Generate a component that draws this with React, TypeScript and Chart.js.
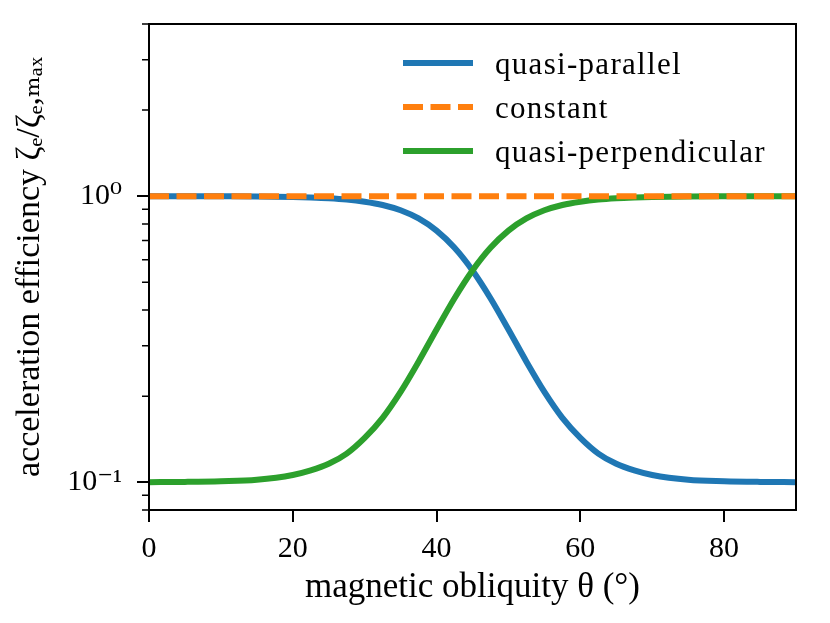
import React, { useEffect, useRef } from "react";
import { Chart, registerables } from "chart.js";

Chart.register(...registerables);

// ---- data ----
const theta = [0, 5, 10, 15, 20, 22.5, 25, 27.5, 30, 32.5, 35, 37.5, 40, 42.5, 45, 47.5, 50, 52.5, 55, 57.5, 60, 62.5, 65, 67.5, 70, 75, 80, 85, 90];
const quasiParallel = [0.9999, 0.9997, 0.9992, 0.998, 0.994, 0.99, 0.984, 0.974, 0.957, 0.932, 0.893, 0.836, 0.758, 0.66, 0.55, 0.44, 0.342, 0.264, 0.207, 0.168, 0.143, 0.126, 0.116, 0.11, 0.106, 0.102, 0.1008, 0.1003, 0.1001];
const quasiPerpendicular = [0.1001, 0.1003, 0.1008, 0.102, 0.106, 0.11, 0.116, 0.126, 0.143, 0.168, 0.207, 0.264, 0.342, 0.44, 0.55, 0.66, 0.758, 0.836, 0.893, 0.932, 0.957, 0.974, 0.984, 0.99, 0.994, 0.998, 0.9992, 0.9997, 0.9999];
const constantTheta = [0, 90];
const constantValue = [1, 1];

const seriesLabels = ["quasi-parallel", "constant", "quasi-perpendicular"];
const xTicks = [0, 20, 40, 60, 80];
const yMajorTicks = [0.1, 1];
const yMajorLabels = ["10⁻¹", "10⁰"];
const yMinorTicks = [0.08, 0.09, 0.2, 0.3, 0.4, 0.5, 0.6, 0.7, 0.8, 0.9, 2, 3, 4];
const xTitle = "magnetic obliquity θ (°)";
const yTitle = "acceleration efficiency ζₑ/ζₑ,ₘₐₓ";

const BLUE = "#1f77b4";
const ORANGE = "#ff7f0e";
const GREEN = "#2ca02c";
const FONT = '"Liberation Serif", "DejaVu Serif", serif';
const DASH = [20, 7.5];
const LW = 6;

const framePlugin = {
  id: "mplFrame",
  afterDraw(chart: any) {
    const { ctx, chartArea: a, scales } = chart;
    const xs = scales.x;
    const ys = scales.y;
    ctx.save();
    ctx.strokeStyle = "#000";
    ctx.lineCap = "butt";
    // major ticks
    ctx.lineWidth = 2;
    ctx.beginPath();
    xTicks.forEach((v) => {
      const px = Math.round(xs.getPixelForValue(v));
      ctx.moveTo(px, a.bottom);
      ctx.lineTo(px, a.bottom + 12);
    });
    yMajorTicks.forEach((v) => {
      const py = Math.round(ys.getPixelForValue(v));
      ctx.moveTo(a.left, py);
      ctx.lineTo(a.left - 12, py);
    });
    ctx.stroke();
    // minor ticks
    ctx.lineWidth = 1.5;
    ctx.beginPath();
    yMinorTicks.forEach((v) => {
      const py = ys.getPixelForValue(v);
      ctx.moveTo(a.left, py);
      ctx.lineTo(a.left - 7, py);
    });
    ctx.stroke();
    // frame
    ctx.lineWidth = 2;
    ctx.strokeRect(a.left, a.top, a.right - a.left, a.bottom - a.top);

    // legend (inside the axes, upper right)
    const ds = chart.data.datasets;
    const sx0 = a.right - 393;
    const sx1 = sx0 + 70;
    const tx = sx0 + 92;
    ctx.font = `31px ${FONT}`;
    try {
      (ctx as any).letterSpacing = "1.3px";
    } catch (e) {}
    ctx.textBaseline = "alphabetic";
    ctx.textAlign = "left";
    [0, 1, 2].forEach((i, row) => {
      const d = ds[i];
      const ly = a.top + 39 + row * 44;
      ctx.beginPath();
      ctx.strokeStyle = d.borderColor;
      ctx.lineWidth = d.borderWidth;
      ctx.setLineDash(d.borderDash || []);
      ctx.lineDashOffset = 0;
      ctx.moveTo(sx0, ly);
      ctx.lineTo(sx1, ly);
      ctx.stroke();
      ctx.setLineDash([]);
      ctx.fillStyle = "#000";
      ctx.fillText(d.label, tx, ly + 11);
    });
    try {
      (ctx as any).letterSpacing = "0px";
    } catch (e) {}
    ctx.restore();
  },
};

export default function App() {
  const ref = useRef<HTMLCanvasElement | null>(null);

  useEffect(() => {
    if (!ref.current) return;
    const toXY = (xs: number[], ys: number[]) => xs.map((x, i) => ({ x, y: ys[i] }));
    const chart = new Chart(ref.current, {
      type: "line",
      data: {
        datasets: [
          {
            label: seriesLabels[0],
            data: toXY(theta, quasiParallel),
            borderColor: BLUE,
            borderWidth: LW,
            pointRadius: 0,
            cubicInterpolationMode: "monotone",
            order: 2,
          },
          {
            label: seriesLabels[1],
            data: toXY(constantTheta, constantValue),
            borderColor: ORANGE,
            borderWidth: LW,
            borderDash: DASH,
            borderCapStyle: "butt",
            pointRadius: 0,
            order: 0,
          },
          {
            label: seriesLabels[2],
            data: toXY(theta, quasiPerpendicular),
            borderColor: GREEN,
            borderWidth: LW,
            pointRadius: 0,
            cubicInterpolationMode: "monotone",
            order: 1,
          },
        ],
      },
      options: {
        responsive: false,
        animation: false,
        events: [],
        layout: { padding: { top: 24, right: 34, left: 0, bottom: 0 } },
        plugins: { legend: { display: false }, tooltip: { enabled: false } },
        scales: {
          x: {
            type: "linear",
            min: 0,
            max: 90,
            grid: { display: false },
            border: { display: false },
            afterBuildTicks: (s: any) => {
              s.ticks = xTicks.map((v) => ({ value: v }));
            },
            afterFit: (s: any) => {
              s.height = 113;
              s.paddingLeft = 0;
              s.paddingRight = 0;
            },
            ticks: {
              color: "#000",
              font: { family: FONT, size: 30 },
              padding: 13,
              maxRotation: 0,
              autoSkip: false,
              callback: (v: any) => String(v),
            },
            title: {
              display: true,
              text: xTitle,
              color: "#000",
              font: { family: FONT, size: 35 },
              padding: { top: 0, bottom: 14 },
            },
          },
          y: {
            type: "logarithmic",
            min: 0.08,
            max: 4,
            grid: { display: false },
            border: { display: false },
            afterBuildTicks: (s: any) => {
              s.ticks = yMajorTicks.map((v) => ({ value: v }));
            },
            afterFit: (s: any) => {
              s.width = 149;
              s.paddingTop = 0;
              s.paddingBottom = 0;
            },
            ticks: {
              color: "#000",
              font: { family: FONT, size: 30 },
              padding: 19,
              autoSkip: false,
              callback: (v: any) => {
                const i = yMajorTicks.findIndex((t) => Math.abs(t - Number(v)) < 1e-9);
                return i >= 0 ? yMajorLabels[i] : "";
              },
            },
            title: {
              display: true,
              text: yTitle,
              color: "#000",
              font: { family: FONT, size: 34 },
              padding: { top: 10, bottom: 0 },
            },
          },
        },
      },
      plugins: [framePlugin],
    } as any);
    return () => chart.destroy();
  }, []);

  return (
    <div style={{ position: "absolute", left: 0, top: 0, width: 830, height: 623, background: "#fff" }}>
      <canvas ref={ref} width={830} height={623} style={{ display: "block" }} />
    </div>
  );
}
